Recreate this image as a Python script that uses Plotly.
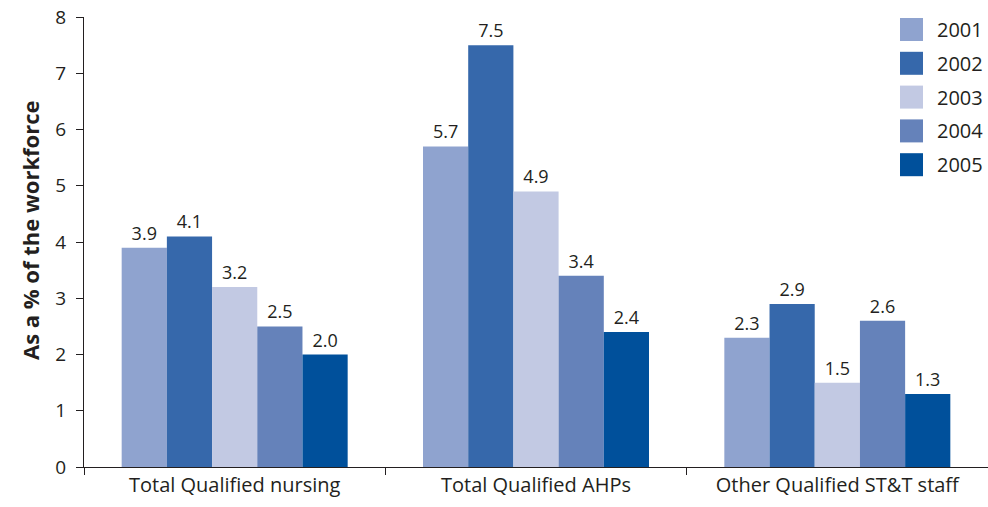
import plotly.graph_objects as go

categories = ["Total Qualified nursing", "Total Qualified AHPs", "Other Qualified ST&T staff"]
years = ["2001", "2002", "2003", "2004", "2005"]
values_2001 = [3.9, 5.7, 2.3]
values_2002 = [4.1, 7.5, 2.9]
values_2003 = [3.2, 4.9, 1.5]
values_2004 = [2.5, 3.4, 2.6]
values_2005 = [2.0, 2.4, 1.3]
series = [values_2001, values_2002, values_2003, values_2004, values_2005]
colors = ["#8FA3CF", "#3668AB", "#C2C9E3", "#6582BA", "#00509B"]

FONT = "Open Sans, Lato, sans-serif"
TEXT_COLOR = "#231F20"
W, H = 988, 507
M_L, M_R, M_T, M_B = 84, 0, 17, 40
PLOT_W = W - M_L - M_R
PLOT_H = H - M_T - M_B


def px_x(x):
    return (x - M_L) / PLOT_W


def px_y(y):
    return (H - M_B - y) / PLOT_H


fig = go.Figure()
for year, vals, col in zip(years, series, colors):
    fig.add_trace(go.Bar(
        x=categories, y=vals, name=year,
        marker=dict(color=col, line=dict(width=0)),
        texttemplate="%{y:.1f}", textposition="outside",
        textfont=dict(size=18, color=TEXT_COLOR, family=FONT),
        cliponaxis=False, showlegend=False,
    ))

# Key in the upper right: large square swatches with year labels
sw = 23          # swatch size in px
step = 33.8      # vertical spacing between entries in px
x0_px, y0_px = 900, 18
for i, (year, col) in enumerate(zip(years, colors)):
    top = y0_px + i * step
    fig.add_shape(
        type="rect", xref="paper", yref="paper",
        x0=px_x(x0_px), x1=px_x(x0_px + sw),
        y0=px_y(top + sw), y1=px_y(top),
        fillcolor=col, line=dict(width=0),
    )
    fig.add_annotation(
        xref="paper", yref="paper", showarrow=False,
        x=px_x(x0_px + 35), y=px_y(top + sw / 2),
        xanchor="left", yanchor="middle", text=year,
        font=dict(size=20, color=TEXT_COLOR, family=FONT),
    )

# Vertical axis caption
fig.add_annotation(
    xref="paper", yref="paper", showarrow=False,
    x=px_x(30), y=px_y(231), xanchor="center", yanchor="middle",
    textangle=-90, text="<b>As a % of the workforce</b>",
    font=dict(size=22, color=TEXT_COLOR, family=FONT),
)

fig.update_layout(
    width=W, height=H,
    margin=dict(l=M_L, r=M_R, t=M_T, b=M_B),
    paper_bgcolor="white", plot_bgcolor="white",
    barmode="group", bargap=0.25, bargroupgap=0,
    font=dict(family=FONT, color=TEXT_COLOR),
    xaxis=dict(
        showline=True, linecolor="#231F20", linewidth=1,
        ticks="outside", ticklen=7, tickcolor="#231F20", tickson="boundaries",
        tickfont=dict(size=20, color=TEXT_COLOR, family=FONT),
        range=[-0.5, 2.5], showgrid=False,
    ),
    yaxis=dict(
        range=[0, 8], dtick=1, showline=True, linecolor="#231F20", linewidth=1,
        ticks="outside", ticklen=7, tickcolor="#231F20", ticklabelstandoff=6,
        tickfont=dict(size=19, color=TEXT_COLOR, family=FONT),
        showgrid=False, zeroline=False,
    ),
)

fig.write_html("out.html")
